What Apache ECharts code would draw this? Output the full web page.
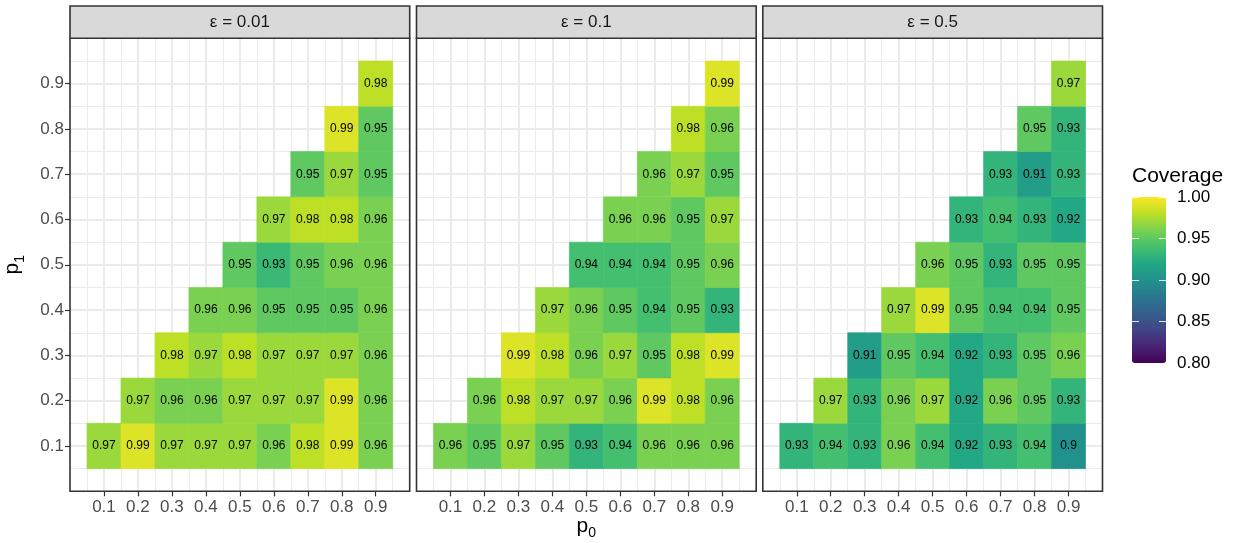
<!DOCTYPE html>
<html>
<head>
<meta charset="utf-8">
<script src="https://cdn.jsdelivr.net/npm/echarts@6/dist/echarts.min.js"></script>
<style>
  html, body { margin: 0; padding: 0; background: #fff; }
  #main { width: 1241px; height: 543px; }
</style>
</head>
<body>
<div id="main"></div>
<script>
var FONT = 'Liberation Sans, Arial, sans-serif';

// facet titles
var epsLabels = ['ε = 0.01', 'ε = 0.1', 'ε = 0.5'];
var p0Ticks = [0.1, 0.2, 0.3, 0.4, 0.5, 0.6, 0.7, 0.8, 0.9];
var p1Ticks = [0.1, 0.2, 0.3, 0.4, 0.5, 0.6, 0.7, 0.8, 0.9];
var legendTicks = [0.8, 0.85, 0.9, 0.95, 1.0];

// coverage, one row per p1 (0.1 .. 0.9), each row starts at p0 = p1
var cov001 = [
	[0.97, 0.99, 0.97, 0.97, 0.97, 0.96, 0.98, 0.99, 0.96],
	[0.97, 0.96, 0.96, 0.97, 0.97, 0.97, 0.99, 0.96],
	[0.98, 0.97, 0.98, 0.97, 0.97, 0.97, 0.96],
	[0.96, 0.96, 0.95, 0.95, 0.95, 0.96],
	[0.95, 0.934, 0.95, 0.96, 0.96],
	[0.97, 0.98, 0.98, 0.96],
	[0.95, 0.97, 0.95],
	[0.99, 0.95],
	[0.98]
];
var cov01 = [
	[0.96, 0.95, 0.97, 0.95, 0.93, 0.94, 0.96, 0.96, 0.96],
	[0.96, 0.98, 0.97, 0.97, 0.96, 0.99, 0.98, 0.96],
	[0.99, 0.98, 0.96, 0.97, 0.95, 0.98, 0.99],
	[0.97, 0.96, 0.95, 0.94, 0.95, 0.93],
	[0.94, 0.94, 0.94, 0.95, 0.96],
	[0.96, 0.96, 0.95, 0.97],
	[0.96, 0.97, 0.95],
	[0.98, 0.96],
	[0.99]
];
var cov05 = [
	[0.93, 0.94, 0.93, 0.96, 0.94, 0.92, 0.93, 0.94, 0.9],
	[0.97, 0.93, 0.96, 0.97, 0.92, 0.96, 0.95, 0.93],
	[0.91, 0.95, 0.94, 0.92, 0.93, 0.95, 0.96],
	[0.97, 0.99, 0.95, 0.94, 0.94, 0.95],
	[0.96, 0.95, 0.93, 0.95, 0.95],
	[0.93, 0.94, 0.93, 0.92],
	[0.93, 0.91, 0.93],
	[0.95, 0.93],
	[0.97]
];

var viridis = ['#440154', '#482475', '#414487', '#355F8D', '#2A788E', '#21918C',
	'#22A884', '#44BF70', '#7AD151', '#BDDF26', '#FDE725'];

// panel layout
var gridLeft = [70, 416.5, 762.8];
var gridW = 339.7;
var gridTop = 38.3;
var gridH = 453;
var stripTop = 6;
// colourbar box
var barLeft = 1132, barTop = 197, barW = 34, barH = 166, barTick = 7;

//把每行数据转换成 [p0, p1, coverage]
function toPoints(rows) {
	var pts = [];
	rows.forEach(function(row, r) {
		row.forEach(function(v, c) {
			pts.push([p0Ticks[r + c], p1Ticks[r], v]);
		});
	});
	return pts;
}

function renderTile(params, api) {
	var x = api.value(0), y = api.value(1), v = api.value(2);
	var a = api.coord([x - 0.05, y + 0.05]);
	var b = api.coord([x + 0.05, y - 0.05]);
	var color = api.visual('color');
	return {
		type: 'group',
		children: [{
			type: 'rect',
			shape: { x: a[0], y: a[1], width: b[0] - a[0], height: b[1] - a[1] },
			style: { fill: color, stroke: color, lineWidth: 0.6 }
		}, {
			type: 'text',
			x: (a[0] + b[0]) / 2,
			y: (a[1] + b[1]) / 2,
			style: {
				text: String(Math.round(v * 100) / 100),
				align: 'center',
				verticalAlign: 'middle',
				fontSize: 12,
				fontFamily: FONT,
				fill: '#000'
			}
		}]
	};
}

function tickText(v) {
	return (v <= 0 || v >= 1) ? '' : String(Math.round(v * 10) / 10);
}

var subRich = {
	a: { fontSize: 21, fontFamily: FONT, color: '#000', verticalAlign: 'bottom' },
	b: { fontSize: 14, fontFamily: FONT, color: '#000', verticalAlign: 'bottom', padding: [0, 0, -4, 0] }
};

var allData = [cov001, cov01, cov05];
var grids = [], xAxes = [], yAxes = [], series = [], graphics = [];

for (var i = 0; i < 3; i++) {
	grids.push({ left: gridLeft[i], top: gridTop, width: gridW, height: gridH, outerBoundsMode: 'none' });
	var xa = {
		gridIndex: i,
		type: 'value',
		min: 0,
		max: 1,
		interval: 0.1,
		axisLine: { show: false },
		axisTick: { show: true, length: 5, customValues: p0Ticks, lineStyle: { color: '#333', width: 1.2 } },
		axisLabel: { customValues: p0Ticks, fontSize: 17, color: '#4D4D4D', margin: 8, fontFamily: FONT, formatter: tickText },
		splitLine: { show: true, lineStyle: { color: '#EBEBEB', width: 2 } },
		minorTick: { show: false, splitNumber: 2 },
		minorSplitLine: { show: true, lineStyle: { color: '#EBEBEB', width: 1 } }
	};
	if (i === 1) {
		xa.name = '{a|p}{b|0}';
		xa.nameLocation = 'middle';
		xa.nameGap = 24;
		xa.nameMoveOverlap = false;
		xa.nameTextStyle = { rich: subRich };
	}
	xAxes.push(xa);

	var ya = {
		gridIndex: i,
		type: 'value',
		min: 0,
		max: 1,
		interval: 0.1,
		axisLine: { show: false },
		axisTick: { show: i === 0, length: 5, customValues: p1Ticks, lineStyle: { color: '#333', width: 1.2 } },
		axisLabel: { show: i === 0, customValues: p1Ticks, fontSize: 17, color: '#4D4D4D', margin: 6, fontFamily: FONT, formatter: tickText },
		splitLine: { show: true, lineStyle: { color: '#EBEBEB', width: 2 } },
		minorTick: { show: false, splitNumber: 2 },
		minorSplitLine: { show: true, lineStyle: { color: '#EBEBEB', width: 1 } }
	};
	if (i === 0) {
		ya.name = '{a|p}{b|1}';
		ya.nameLocation = 'middle';
		ya.nameGap = 47;
		ya.nameRotate = 90;
		ya.nameTextStyle = { rich: subRich };
	}
	yAxes.push(ya);

	series.push({
		type: 'custom',
		xAxisIndex: i,
		yAxisIndex: i,
		renderItem: renderTile,
		encode: { x: 0, y: 1 },
		data: toPoints(allData[i]),
		z: 5
	});

	// 面板边框和标题条
	graphics.push({
		type: 'rect',
		z: 100,
		shape: { x: gridLeft[i], y: gridTop, width: gridW, height: gridH },
		style: { fill: null, stroke: '#333', lineWidth: 1.6 }
	});
	graphics.push({
		type: 'rect',
		z: 100,
		shape: { x: gridLeft[i], y: stripTop, width: gridW, height: gridTop - stripTop },
		style: { fill: '#D9D9D9', stroke: '#333', lineWidth: 1.6 }
	});
	graphics.push({
		type: 'text',
		z: 101,
		x: gridLeft[i] + gridW / 2,
		y: stripTop + (gridTop - stripTop) / 2,
		style: { text: epsLabels[i], align: 'center', verticalAlign: 'middle', fontSize: 17, fontFamily: FONT, fill: '#1A1A1A' }
	});
}

// colourbar: grid 3 holds labels + left ticks, grid 4 holds the right-edge ticks
var barTickStyle = { color: 'rgba(255,255,255,0.85)', width: 1 };
grids.push({ left: barLeft, top: barTop, width: barW, height: barH, outerBoundsMode: 'none' });
grids.push({ left: barLeft + barW - barTick, top: barTop, width: barTick, height: barH, outerBoundsMode: 'none' });
xAxes.push({ gridIndex: 3, type: 'value', show: false });
xAxes.push({ gridIndex: 4, type: 'value', show: false });
yAxes.push({
	gridIndex: 3, type: 'value', min: 0.8, max: 1.0, interval: 0.05, position: 'left', z: 20,
	axisLine: { show: false },
	splitLine: { show: false },
	axisTick: { show: true, inside: true, length: barTick, customValues: legendTicks, lineStyle: barTickStyle },
	axisLabel: {
		inside: true, fontSize: 17, color: '#000', margin: barW + 11, fontFamily: FONT, customValues: legendTicks,
		formatter: function(v) { return v.toFixed(2); }
	}
});
yAxes.push({
	gridIndex: 4, type: 'value', min: 0.8, max: 1.0, interval: 0.05, position: 'left', z: 20,
	axisLine: { show: false },
	splitLine: { show: false },
	axisTick: { show: true, inside: true, length: barTick, customValues: legendTicks, lineStyle: barTickStyle },
	axisLabel: { show: false }
});

graphics.push({
	type: 'text',
	x: barLeft,
	y: 166,
	style: { text: 'Coverage', fontSize: 21, fontFamily: FONT, fill: '#000', verticalAlign: 'top' }
});

var chart = echarts.init(document.getElementById('main'));
chart.setOption({
	backgroundColor: '#fff',
	animation: false,
	grid: grids,
	xAxis: xAxes,
	yAxis: yAxes,
	visualMap: {
		type: 'continuous',
		min: 0.8,
		max: 1.0,
		dimension: 2,
		seriesIndex: [0, 1, 2],
		calculable: false,
		left: barLeft,
		top: barTop,
		itemWidth: barW,
		itemHeight: barH,
		padding: 0,
		inRange: { color: viridis }
	},
	graphic: graphics,
	series: series
});
</script>
</body>
</html>
